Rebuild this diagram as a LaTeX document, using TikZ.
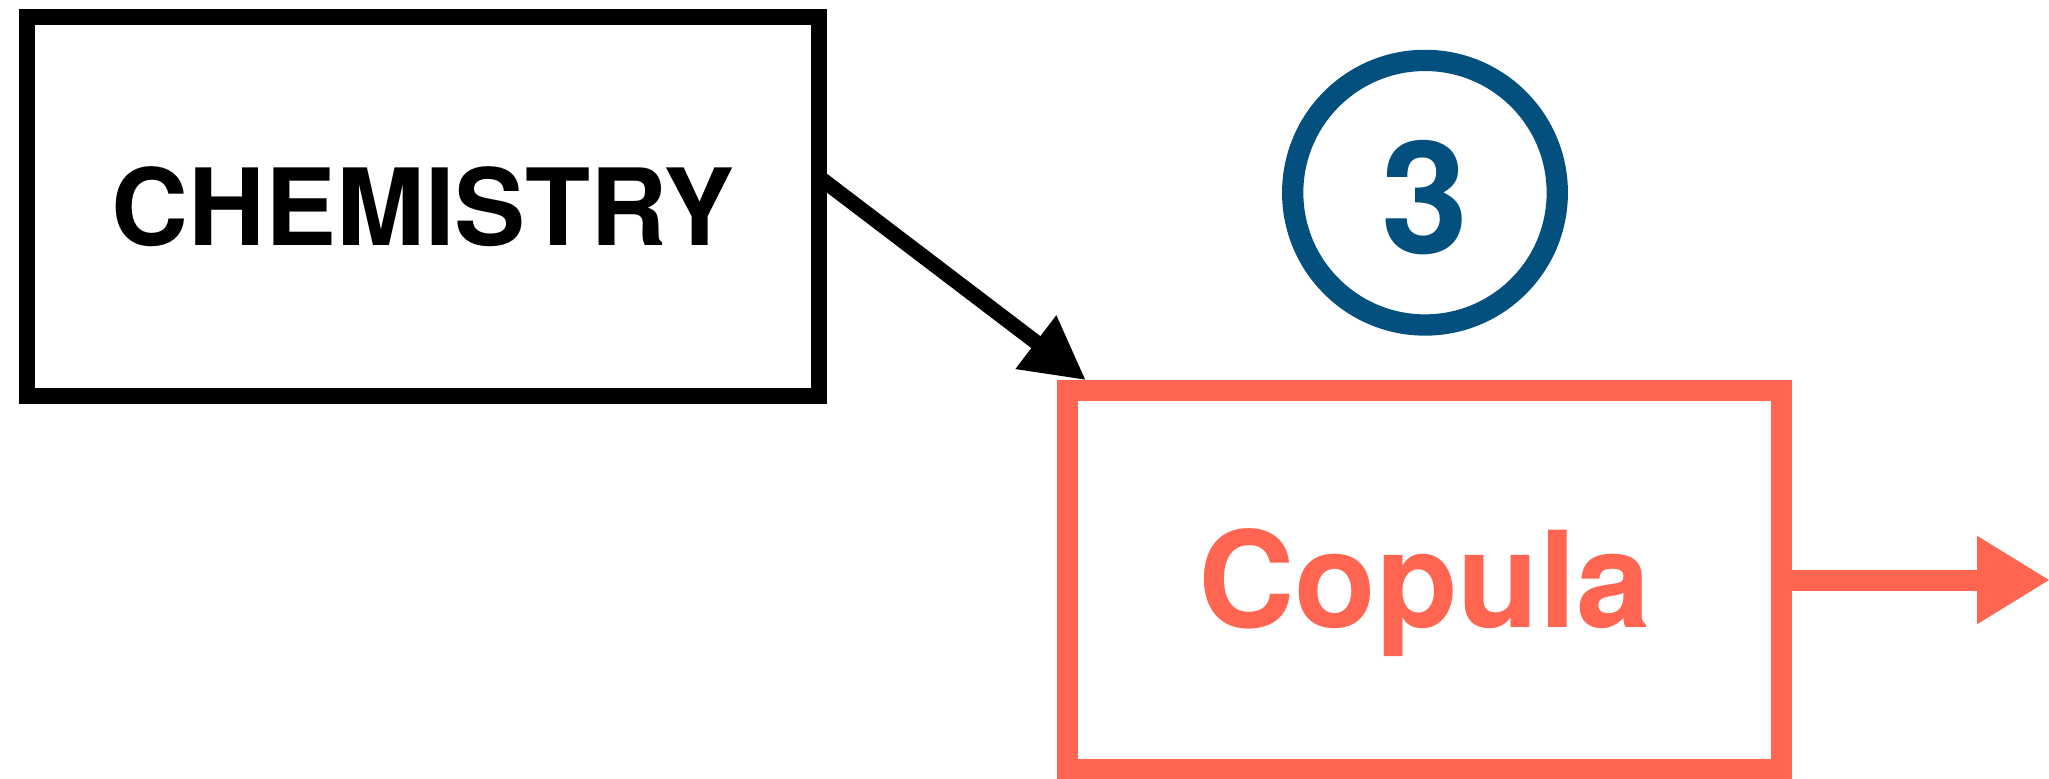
\documentclass[tikz,border=0pt]{standalone}
\usepackage{fontspec}
\setmainfont{TeX Gyre Heros}
\usetikzlibrary{arrows.meta}
\definecolor{copred}{HTML}{FF6550}
\definecolor{numblue}{HTML}{03507F}
\begin{document}
\begin{tikzpicture}[x=0.1mm,y=-0.1mm,
  chembox/.style={draw=black,line width=1.57mm,minimum width=79.2mm,minimum height=37.9mm,inner sep=0pt,
    font=\fontsize{30.3}{36}\selectfont\bfseries,text height=7.7mm,text depth=0pt},
  copbox/.style={draw=copred,text=copred,line width=2.1mm,minimum width=71.4mm,minimum height=37.85mm,inner sep=0pt,
    font=\fontsize{38}{44}\selectfont\bfseries,text height=9.55mm,text depth=0pt},
  numcirc/.style={circle,draw=numblue,text=numblue,line width=2.13mm,minimum size=26.46mm,inner sep=0pt,
    font=\fontsize{44.5}{50}\selectfont\bfseries,text height=12.1mm,text depth=0pt},
  conn/.style={line width=1.5mm,-{Triangle[length=6.3mm,width=6.3mm]}},
  outarrow/.style={copred,line width=2.1mm,-{Triangle[length=7.3mm,width=8.3mm]}}]
\useasboundingbox (0,0) rectangle (2049,778);
\node[chembox] (chem) at (423,206.5) {CHEMISTRY};
\node[copbox] (cop) at (1424.5,580) {Copula};
\node[numcirc] (num) at (1425,192.7) {3};
\coordinate (out) at (2050,580);
\draw[conn] ([xshift=-0.8mm,yshift=2.95mm]chem.east) -- ([xshift=2.9mm]cop.north west);
\draw[outarrow] (cop.east) -- (out);
\end{tikzpicture}
\end{document}
